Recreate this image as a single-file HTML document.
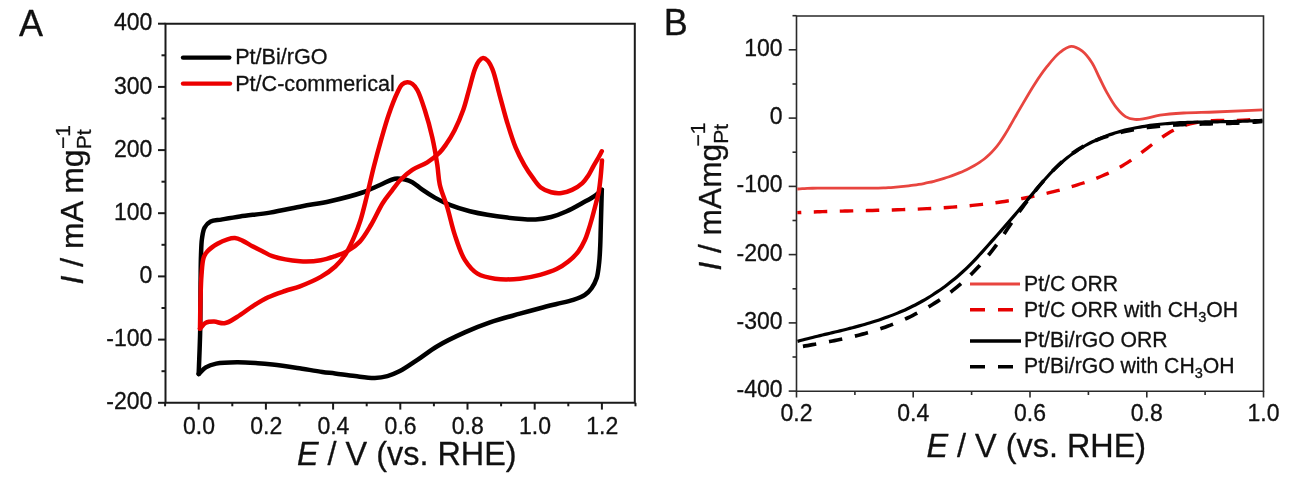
<!DOCTYPE html>
<html><head><meta charset="utf-8"><style>
html,body{margin:0;padding:0;background:#fff;}
body{width:1293px;height:481px;overflow:hidden;font-family:"Liberation Sans", sans-serif;}
svg{display:block;will-change:transform;}
text{stroke:#111;stroke-width:0.3px;stroke-linejoin:round;}
</style></head><body>
<svg width="1293" height="481" viewBox="0 0 1293 481" font-family='"Liberation Sans", sans-serif' fill="#111"><path d="M165.5 23.7H634.8V402.8H165.5Z" fill="none" stroke="#1a1a1a" stroke-width="2"/>
<path d="M158 402.8H165.5" stroke="#1a1a1a" stroke-width="2"/>
<text x="152.3" y="409.4" text-anchor="end" font-size="23">-200</text>
<path d="M158 339.6H165.5" stroke="#1a1a1a" stroke-width="2"/>
<text x="152.3" y="346.2" text-anchor="end" font-size="23">-100</text>
<path d="M158 276.4H165.5" stroke="#1a1a1a" stroke-width="2"/>
<text x="152.3" y="283.0" text-anchor="end" font-size="23">0</text>
<path d="M158 213.2H165.5" stroke="#1a1a1a" stroke-width="2"/>
<text x="152.3" y="219.8" text-anchor="end" font-size="23">100</text>
<path d="M158 150.1H165.5" stroke="#1a1a1a" stroke-width="2"/>
<text x="152.3" y="156.7" text-anchor="end" font-size="23">200</text>
<path d="M158 86.9H165.5" stroke="#1a1a1a" stroke-width="2"/>
<text x="152.3" y="93.5" text-anchor="end" font-size="23">300</text>
<path d="M158 23.7H165.5" stroke="#1a1a1a" stroke-width="2"/>
<text x="152.3" y="30.3" text-anchor="end" font-size="23">400</text>
<path d="M161.5 371.2H165.5" stroke="#1a1a1a" stroke-width="2"/>
<path d="M161.5 308.0H165.5" stroke="#1a1a1a" stroke-width="2"/>
<path d="M161.5 244.8H165.5" stroke="#1a1a1a" stroke-width="2"/>
<path d="M161.5 181.7H165.5" stroke="#1a1a1a" stroke-width="2"/>
<path d="M161.5 118.5H165.5" stroke="#1a1a1a" stroke-width="2"/>
<path d="M161.5 55.3H165.5" stroke="#1a1a1a" stroke-width="2"/>
<path d="M198.7 402.8V409.6" stroke="#1a1a1a" stroke-width="2"/>
<text x="199.0" y="434.3" text-anchor="middle" font-size="23">0.0</text>
<path d="M265.9 402.8V409.6" stroke="#1a1a1a" stroke-width="2"/>
<text x="266.2" y="434.3" text-anchor="middle" font-size="23">0.2</text>
<path d="M333.1 402.8V409.6" stroke="#1a1a1a" stroke-width="2"/>
<text x="333.4" y="434.3" text-anchor="middle" font-size="23">0.4</text>
<path d="M400.3 402.8V409.6" stroke="#1a1a1a" stroke-width="2"/>
<text x="400.6" y="434.3" text-anchor="middle" font-size="23">0.6</text>
<path d="M467.5 402.8V409.6" stroke="#1a1a1a" stroke-width="2"/>
<text x="467.8" y="434.3" text-anchor="middle" font-size="23">0.8</text>
<path d="M534.7 402.8V409.6" stroke="#1a1a1a" stroke-width="2"/>
<text x="535.0" y="434.3" text-anchor="middle" font-size="23">1.0</text>
<path d="M601.9 402.8V409.6" stroke="#1a1a1a" stroke-width="2"/>
<text x="602.2" y="434.3" text-anchor="middle" font-size="23">1.2</text>
<path d="M165.1 402.8V406.3" stroke="#1a1a1a" stroke-width="2"/>
<path d="M232.3 402.8V406.3" stroke="#1a1a1a" stroke-width="2"/>
<path d="M299.5 402.8V406.3" stroke="#1a1a1a" stroke-width="2"/>
<path d="M366.7 402.8V406.3" stroke="#1a1a1a" stroke-width="2"/>
<path d="M433.9 402.8V406.3" stroke="#1a1a1a" stroke-width="2"/>
<path d="M501.1 402.8V406.3" stroke="#1a1a1a" stroke-width="2"/>
<path d="M568.3 402.8V406.3" stroke="#1a1a1a" stroke-width="2"/>
<path d="M635.5 402.8V406.3" stroke="#1a1a1a" stroke-width="2"/>
<text x="297" y="465.3" font-size="32.4"><tspan font-style="italic">E</tspan> / V (vs. RHE)</text>
<text transform="translate(83.3 284.5) rotate(-90)" font-size="32"><tspan font-style="italic">I</tspan> / mA mg<tspan font-size="21" dy="8">Pt</tspan><tspan font-size="21" dx="-19.5" dy="-21.5">&#8722;1</tspan></text>
<text x="19" y="35.8" font-size="36" stroke-width="0">A</text>
<path d="M183 57.6H229.3" stroke="#000" stroke-width="4.4" stroke-linecap="round"/>
<path d="M183 83.6H230" stroke="#ec0000" stroke-width="4.4" stroke-linecap="round"/>
<text x="235.2" y="64" font-size="21.6">Pt/Bi/rGO</text>
<text x="235.2" y="90.6" font-size="21.6">Pt/C-commerical</text>
<path d="M198.70 374.00 C199.20 359.33 199.88 345.14 200.20 330.00 C200.54 313.87 200.43 293.81 200.60 280.00 C200.72 270.24 200.71 262.47 201.00 255.00 C201.23 248.93 201.27 243.40 202.00 238.50 C202.60 234.46 202.97 230.52 204.60 227.60 C206.02 225.06 208.07 222.94 210.60 221.60 C213.46 220.09 217.16 220.32 221.20 219.60 C226.57 218.64 233.00 217.44 240.00 216.40 C248.80 215.09 259.76 214.24 269.90 212.60 C280.51 210.88 291.92 208.16 302.30 206.20 C311.89 204.39 320.44 203.34 330.00 201.20 C340.45 198.86 353.42 195.64 362.50 192.50 C369.33 190.14 374.40 187.38 380.00 185.00 C385.16 182.80 390.33 179.44 394.90 178.70 C398.52 178.11 401.95 178.83 405.00 179.50 C407.68 180.09 409.78 180.83 412.30 182.20 C415.49 183.94 418.73 187.24 422.30 189.70 C426.18 192.38 430.37 195.13 434.80 197.60 C439.50 200.22 444.35 202.73 449.80 204.90 C455.91 207.33 462.02 209.32 469.80 211.20 C480.30 213.73 495.73 216.24 507.40 217.60 C517.44 218.77 527.60 219.76 535.60 219.40 C541.58 219.13 546.06 218.32 551.20 217.00 C556.47 215.65 561.68 213.59 566.80 211.30 C572.08 208.94 577.52 205.71 582.40 203.00 C586.79 200.56 591.35 198.25 594.80 195.80 C597.57 193.83 599.47 191.80 601.80 189.80" fill="none" stroke="#000" stroke-width="4.5" stroke-linejoin="round" stroke-linecap="round"/>
<path d="M601.80 189.80 C601.43 203.20 601.00 219.52 600.70 230.00 C600.51 236.74 600.47 241.06 600.20 246.60 C599.93 252.16 599.73 257.90 599.10 263.30 C598.50 268.45 598.04 273.91 596.60 278.30 C595.37 282.05 593.66 285.36 591.60 288.20 C589.70 290.83 587.65 293.03 584.90 294.90 C581.72 297.06 577.58 298.46 573.30 299.90 C568.30 301.58 562.16 302.62 556.60 304.00 C551.06 305.38 545.79 306.68 540.00 308.20 C533.61 309.88 527.25 311.62 519.90 313.70 C510.91 316.24 499.47 319.15 490.00 322.40 C481.17 325.43 473.30 328.59 464.80 332.40 C455.75 336.46 445.58 341.31 437.30 346.20 C429.97 350.54 423.86 355.61 417.40 359.90 C411.41 363.87 405.37 368.29 399.90 371.10 C395.50 373.36 391.64 374.97 387.40 376.10 C383.30 377.20 379.56 377.78 374.90 377.90 C369.04 378.05 361.63 376.85 355.00 376.10 C348.33 375.35 340.92 374.15 335.00 373.40 C330.29 372.80 327.24 372.58 322.30 371.90 C315.36 370.95 305.63 369.22 297.30 368.00 C289.00 366.79 279.61 365.44 272.40 364.60 C266.89 363.96 263.10 363.58 257.80 363.20 C251.48 362.75 243.93 362.13 237.00 362.20 C230.06 362.27 221.87 362.40 216.20 363.60 C212.06 364.48 208.78 365.57 205.80 367.40 C203.01 369.11 201.07 371.80 198.70 374.00" fill="none" stroke="#000" stroke-width="4.5" stroke-linejoin="round" stroke-linecap="round"/>
<path d="M200.00 328.70 C200.17 319.13 200.23 309.24 200.50 300.00 C200.75 291.38 200.87 282.59 201.50 275.00 C202.03 268.61 202.21 261.66 203.70 257.40 C204.66 254.67 205.68 253.20 207.50 251.20 C209.88 248.58 214.05 245.72 217.50 243.70 C220.73 241.81 224.36 240.23 227.50 239.30 C230.10 238.53 232.45 237.90 234.90 238.10 C237.42 238.30 239.78 239.44 242.40 240.60 C245.56 242.00 249.05 244.42 252.40 246.20 C255.71 247.95 259.07 249.53 262.40 251.20 C265.73 252.87 268.11 254.76 272.40 256.20 C279.20 258.48 291.42 260.72 300.00 261.30 C307.39 261.80 314.55 261.34 320.80 260.30 C326.13 259.41 330.69 257.72 335.30 256.10 C339.67 254.56 343.82 253.21 347.80 250.90 C352.01 248.45 356.15 245.50 359.80 241.60 C363.99 237.12 367.37 231.02 371.00 225.00 C375.06 218.28 378.89 209.17 382.80 203.00 C385.88 198.15 388.94 194.60 392.00 190.60 C394.94 186.77 397.48 182.92 400.80 179.50 C404.22 175.97 408.03 172.61 412.30 169.80 C416.81 166.83 422.67 165.26 427.30 162.30 C431.82 159.41 436.53 155.57 439.80 152.30 C442.34 149.76 443.71 147.79 445.80 144.80 C448.58 140.81 451.85 135.58 454.60 130.20 C457.74 124.07 460.86 116.67 463.30 109.80 C465.68 103.10 467.17 96.28 469.10 89.50 C471.04 82.71 472.87 74.28 474.90 69.10 C476.23 65.71 477.37 62.92 479.00 61.00 C480.22 59.56 481.68 58.08 483.10 58.00 C484.52 57.92 486.16 59.16 487.50 60.50 C489.38 62.37 490.83 65.33 492.40 69.10 C495.00 75.35 497.28 86.56 499.70 95.30 C502.12 104.03 504.25 112.80 506.90 121.50 C509.58 130.27 512.48 139.96 515.70 147.70 C518.40 154.20 521.33 159.80 524.40 165.10 C527.16 169.87 530.18 174.28 533.10 178.20 C535.65 181.64 537.73 185.14 540.80 187.50 C543.79 189.80 547.65 191.39 551.20 192.30 C554.59 193.16 558.17 193.38 561.60 193.00 C565.10 192.61 568.64 191.46 572.00 189.90 C575.59 188.23 579.62 185.64 582.40 183.10 C584.77 180.93 586.27 178.61 588.00 176.00 C589.89 173.16 591.44 169.70 593.20 166.60 C594.94 163.53 596.96 160.26 598.50 157.50 C599.75 155.25 600.70 153.37 601.80 151.30" fill="none" stroke="#ec0000" stroke-width="4.5" stroke-linejoin="round" stroke-linecap="round"/>
<path d="M602.00 160.50 C601.53 166.13 601.17 171.95 600.60 177.40 C600.06 182.53 599.54 187.79 598.70 192.30 C597.98 196.13 597.09 198.93 596.10 202.80 C594.86 207.62 593.18 214.13 591.80 219.00 C590.66 223.03 589.68 226.44 588.50 230.00 C587.37 233.43 586.46 236.61 584.90 240.00 C583.15 243.80 581.01 248.04 578.30 251.60 C575.51 255.26 571.94 258.67 568.30 261.60 C564.70 264.50 560.98 266.97 556.60 269.10 C551.67 271.50 545.86 273.33 540.00 274.90 C533.68 276.59 526.99 278.04 519.90 278.70 C512.08 279.43 502.50 279.75 495.00 278.70 C488.58 277.80 482.51 276.79 477.50 273.70 C472.42 270.56 468.37 265.57 464.80 259.90 C460.52 253.10 457.69 243.52 454.80 234.90 C451.83 226.03 449.92 216.09 447.30 207.40 C444.90 199.44 441.47 192.10 439.80 184.70 C438.27 177.92 438.40 171.95 437.30 164.80 C436.00 156.38 434.37 146.49 432.30 137.40 C430.21 128.22 427.51 118.36 424.80 110.00 C422.45 102.75 419.90 94.58 417.30 90.00 C415.74 87.25 414.35 85.28 412.50 84.00 C410.94 82.92 409.03 82.23 407.30 82.30 C405.53 82.37 403.52 83.16 402.00 84.50 C400.07 86.20 399.04 89.08 397.40 92.50 C394.75 98.01 391.27 107.17 388.60 114.90 C385.82 122.95 383.53 131.36 381.10 139.90 C378.56 148.81 376.08 157.93 373.70 167.30 C371.21 177.10 368.87 188.10 366.50 197.50 C364.41 205.78 362.57 213.74 360.30 220.80 C358.35 226.86 356.40 231.93 354.00 237.40 C351.55 243.00 348.95 249.03 345.70 254.00 C342.66 258.66 339.33 262.75 335.30 266.50 C331.08 270.43 326.24 273.76 320.80 276.90 C314.65 280.45 306.44 283.85 300.00 286.30 C294.66 288.34 290.12 289.24 285.00 291.00 C279.53 292.88 273.51 294.81 268.20 297.30 C263.06 299.71 258.56 302.50 253.60 305.60 C248.17 309.00 242.24 313.90 237.00 317.00 C232.63 319.59 228.57 322.67 224.50 323.30 C220.96 323.84 217.37 321.63 214.10 321.60 C211.18 321.57 208.16 321.61 205.80 322.80 C203.46 323.98 201.93 326.73 200.00 328.70" fill="none" stroke="#ec0000" stroke-width="4.5" stroke-linejoin="round" stroke-linecap="round"/>
<path d="M796.5 16.0H1263.5V391.2H796.5Z" fill="none" stroke="#2a2a2a" stroke-width="1.6"/>
<path d="M788.7 391.1H796.5" stroke="#2a2a2a" stroke-width="1.6"/>
<text x="782.6" y="397.1" text-anchor="end" font-size="23">-400</text>
<path d="M788.7 322.9H796.5" stroke="#2a2a2a" stroke-width="1.6"/>
<text x="782.6" y="328.9" text-anchor="end" font-size="23">-300</text>
<path d="M788.7 254.6H796.5" stroke="#2a2a2a" stroke-width="1.6"/>
<text x="782.6" y="260.6" text-anchor="end" font-size="23">-200</text>
<path d="M788.7 186.4H796.5" stroke="#2a2a2a" stroke-width="1.6"/>
<text x="782.6" y="192.4" text-anchor="end" font-size="23">-100</text>
<path d="M788.7 118.1H796.5" stroke="#2a2a2a" stroke-width="1.6"/>
<text x="782.6" y="124.1" text-anchor="end" font-size="23">0</text>
<path d="M788.7 49.8H796.5" stroke="#2a2a2a" stroke-width="1.6"/>
<text x="782.6" y="55.8" text-anchor="end" font-size="23">100</text>
<path d="M792.5 357.0H796.5" stroke="#2a2a2a" stroke-width="1.6"/>
<path d="M792.5 288.8H796.5" stroke="#2a2a2a" stroke-width="1.6"/>
<path d="M792.5 220.5H796.5" stroke="#2a2a2a" stroke-width="1.6"/>
<path d="M792.5 152.2H796.5" stroke="#2a2a2a" stroke-width="1.6"/>
<path d="M792.5 84.0H796.5" stroke="#2a2a2a" stroke-width="1.6"/>
<path d="M792.5 15.7H796.5" stroke="#2a2a2a" stroke-width="1.6"/>
<path d="M796.5 391.2V397.5" stroke="#2a2a2a" stroke-width="1.6"/>
<text x="796.5" y="421" text-anchor="middle" font-size="23">0.2</text>
<path d="M913.2 391.2V397.5" stroke="#2a2a2a" stroke-width="1.6"/>
<text x="913.2" y="421" text-anchor="middle" font-size="23">0.4</text>
<path d="M1030.0 391.2V397.5" stroke="#2a2a2a" stroke-width="1.6"/>
<text x="1030.0" y="421" text-anchor="middle" font-size="23">0.6</text>
<path d="M1146.8 391.2V397.5" stroke="#2a2a2a" stroke-width="1.6"/>
<text x="1146.8" y="421" text-anchor="middle" font-size="23">0.8</text>
<path d="M1263.5 391.2V397.5" stroke="#2a2a2a" stroke-width="1.6"/>
<text x="1263.5" y="421" text-anchor="middle" font-size="23">1.0</text>
<path d="M854.9 391.2V395" stroke="#2a2a2a" stroke-width="1.6"/>
<path d="M971.6 391.2V395" stroke="#2a2a2a" stroke-width="1.6"/>
<path d="M1088.4 391.2V395" stroke="#2a2a2a" stroke-width="1.6"/>
<path d="M1205.1 391.2V395" stroke="#2a2a2a" stroke-width="1.6"/>
<text x="926.5" y="457" font-size="32.4"><tspan font-style="italic">E</tspan> / V (vs. RHE)</text>
<text transform="translate(720.5 270.6) rotate(-90)" font-size="31.7"><tspan font-style="italic">I</tspan> / mAmg<tspan font-size="21" dy="7.5">Pt</tspan><tspan font-size="21" dx="-22.5" dy="-23">&#8722;1</tspan></text>
<text x="663.8" y="35.2" font-size="36" stroke-width="0">B</text>
<path d="M797.30 188.98 C798.99 188.87 800.67 188.76 802.36 188.67 C804.05 188.57 805.74 188.50 807.42 188.43 C809.11 188.36 810.80 188.30 812.48 188.25 C814.17 188.21 815.86 188.17 817.55 188.14 C819.23 188.11 820.92 188.09 822.61 188.07 C824.29 188.05 825.98 188.04 827.67 188.04 C829.36 188.04 831.04 188.04 832.73 188.04 C834.42 188.05 836.10 188.06 837.79 188.07 C839.48 188.08 841.17 188.09 842.85 188.10 C844.54 188.12 846.23 188.13 847.91 188.15 C849.60 188.16 851.29 188.18 852.97 188.19 C854.66 188.20 856.35 188.21 858.04 188.21 C859.72 188.22 861.41 188.22 863.10 188.22 C864.78 188.22 866.47 188.21 868.16 188.20 C869.85 188.18 871.53 188.16 873.22 188.13 C874.91 188.11 876.59 188.07 878.28 188.03 C879.97 187.98 881.66 187.93 883.34 187.86 C885.03 187.80 886.72 187.72 888.40 187.63 C890.09 187.55 891.78 187.45 893.47 187.33 C895.15 187.22 896.84 187.09 898.53 186.95 C900.22 186.81 901.90 186.65 903.59 186.48 C905.28 186.31 906.96 186.12 908.65 185.91 C910.34 185.70 912.03 185.48 913.71 185.23 C915.40 184.98 917.09 184.72 918.77 184.44 C920.46 184.15 922.15 183.85 923.83 183.52 C925.52 183.19 927.21 182.84 928.90 182.47 C930.59 182.09 932.27 181.69 933.96 181.27 C935.65 180.85 937.33 180.40 939.02 179.93 C940.71 179.45 942.40 178.95 944.08 178.43 C945.77 177.90 947.46 177.34 949.14 176.75 C950.83 176.17 952.52 175.55 954.20 174.91 C955.89 174.26 957.58 173.58 959.26 172.87 C960.96 172.16 962.64 171.42 964.33 170.65 C966.02 169.87 967.71 169.07 969.39 168.22 C971.08 167.37 972.78 166.49 974.45 165.54 C976.15 164.57 977.84 163.56 979.51 162.45 C981.22 161.30 982.91 160.09 984.57 158.77 C986.29 157.39 987.98 155.92 989.63 154.33 C991.36 152.66 993.05 150.87 994.69 148.95 C996.43 146.93 998.11 144.75 999.75 142.46 C1001.49 140.05 1003.16 137.43 1004.82 134.79 C1006.54 132.04 1008.20 129.15 1009.88 126.27 C1011.58 123.35 1013.25 120.34 1014.94 117.40 C1016.62 114.47 1017.85 112.30 1020.00 108.65 C1023.64 102.45 1030.02 91.19 1034.90 83.70 C1039.10 77.26 1042.99 71.56 1047.30 66.20 C1051.31 61.22 1055.44 55.91 1059.80 52.50 C1063.43 49.66 1067.30 46.57 1071.10 46.40 C1074.80 46.23 1078.97 48.73 1082.30 51.20 C1085.96 53.92 1089.03 58.29 1091.80 62.50 C1094.75 66.99 1096.80 72.51 1099.30 77.50 C1101.80 82.48 1104.03 87.49 1106.80 92.40 C1109.65 97.46 1112.81 103.17 1116.20 107.40 C1119.11 111.04 1122.12 114.60 1125.50 116.60 C1128.42 118.33 1131.73 119.06 1134.90 119.40 C1138.00 119.74 1140.79 119.22 1144.30 118.70 C1148.89 118.02 1154.21 116.11 1160.00 115.20 C1167.01 114.09 1175.10 113.53 1183.50 113.00 C1193.16 112.39 1203.20 112.44 1214.70 112.00 C1228.94 111.46 1246.57 110.60 1262.50 109.90" fill="none" stroke="#e8453f" stroke-width="2.8"/>
<path d="M797.30 212.62 C798.97 212.54 800.63 212.46 802.30 212.39 C803.97 212.32 805.64 212.25 807.30 212.18 C808.97 212.11 810.64 212.05 812.31 211.99 C813.97 211.92 815.64 211.87 817.31 211.81 C818.98 211.75 820.64 211.70 822.31 211.64 C823.98 211.59 825.65 211.54 827.31 211.49 C828.98 211.44 830.65 211.40 832.32 211.35 C833.98 211.31 835.65 211.26 837.32 211.22 C838.98 211.18 840.65 211.14 842.32 211.10 C843.99 211.06 845.65 211.02 847.32 210.98 C848.99 210.94 850.66 210.91 852.32 210.87 C853.99 210.83 855.66 210.79 857.33 210.76 C858.99 210.72 860.66 210.69 862.33 210.65 C864.00 210.61 865.66 210.58 867.33 210.54 C869.00 210.51 870.66 210.47 872.33 210.43 C874.00 210.39 875.67 210.36 877.33 210.32 C879.00 210.28 880.67 210.24 882.34 210.20 C884.00 210.16 885.67 210.12 887.34 210.07 C889.01 210.03 890.67 209.99 892.34 209.94 C894.01 209.89 895.68 209.85 897.34 209.80 C899.01 209.75 900.68 209.70 902.35 209.64 C904.01 209.59 905.68 209.53 907.35 209.48 C909.01 209.42 910.68 209.36 912.35 209.30 C914.02 209.23 915.68 209.17 917.35 209.10 C919.02 209.03 920.69 208.96 922.35 208.88 C924.02 208.81 925.69 208.73 927.36 208.65 C929.02 208.57 930.69 208.48 932.36 208.39 C934.03 208.31 935.69 208.21 937.36 208.12 C939.03 208.02 940.70 207.92 942.36 207.82 C944.03 207.71 945.70 207.60 947.36 207.49 C949.03 207.38 950.70 207.26 952.37 207.14 C954.03 207.01 955.70 206.89 957.37 206.75 C959.04 206.62 960.70 206.48 962.37 206.34 C964.04 206.20 965.71 206.05 967.37 205.90 C969.04 205.74 970.71 205.58 972.38 205.42 C974.04 205.25 975.71 205.08 977.38 204.91 C979.05 204.73 980.71 204.55 982.38 204.36 C984.05 204.17 985.71 203.97 987.38 203.77 C989.05 203.57 990.72 203.36 992.38 203.14 C994.05 202.93 995.72 202.70 997.39 202.47 C999.05 202.24 1000.72 202.01 1002.39 201.76 C1004.06 201.52 1005.72 201.27 1007.39 201.01 C1009.06 200.75 1010.73 200.48 1012.39 200.21 C1014.06 199.93 1015.73 199.65 1017.39 199.36 C1019.06 199.06 1020.73 198.76 1022.40 198.46 C1024.06 198.15 1025.73 197.83 1027.40 197.51 C1029.07 197.18 1030.73 196.85 1032.40 196.51 C1034.07 196.16 1035.74 195.81 1037.40 195.45 C1039.07 195.09 1040.74 194.72 1042.41 194.34 C1044.07 193.96 1045.74 193.57 1047.41 193.17 C1049.08 192.77 1050.74 192.36 1052.41 191.94 C1054.08 191.52 1055.75 191.10 1057.41 190.66 C1059.08 190.22 1060.75 189.77 1062.41 189.31 C1064.08 188.85 1065.75 188.38 1067.42 187.89 C1069.08 187.41 1070.75 186.92 1072.42 186.42 C1074.09 185.91 1075.75 185.40 1077.42 184.87 C1079.09 184.35 1080.76 183.81 1082.42 183.26 C1084.09 182.71 1085.76 182.15 1087.42 181.57 C1089.09 180.99 1090.76 180.39 1092.43 179.77 C1094.10 179.15 1095.77 178.52 1097.43 177.86 C1099.10 177.19 1100.77 176.51 1102.43 175.80 C1104.10 175.08 1105.77 174.34 1107.43 173.58 C1109.11 172.80 1110.77 172.00 1112.44 171.17 C1114.11 170.32 1115.78 169.45 1117.44 168.55 C1119.11 167.63 1120.78 166.68 1122.44 165.70 C1124.12 164.70 1125.78 163.67 1127.44 162.60 C1129.12 161.52 1130.79 160.39 1132.44 159.24 C1134.12 158.07 1135.78 156.85 1137.45 155.63 C1139.12 154.40 1140.78 153.13 1142.45 151.87 C1144.12 150.61 1145.78 149.32 1147.45 148.04 C1149.12 146.77 1150.78 145.49 1152.45 144.23 C1154.12 142.98 1155.78 141.73 1157.45 140.52 C1159.11 139.32 1160.78 138.13 1162.46 136.99 C1164.11 135.87 1165.78 134.77 1167.46 133.73 C1169.11 132.72 1170.78 131.73 1172.46 130.83 C1174.11 129.95 1175.78 129.12 1177.46 128.36 C1179.12 127.61 1180.79 126.94 1182.47 126.32 C1184.12 125.70 1185.79 125.15 1187.47 124.66 C1189.13 124.17 1190.80 123.73 1192.47 123.35 C1194.13 122.96 1195.80 122.63 1197.47 122.34 C1199.14 122.05 1200.80 121.81 1202.47 121.60 C1204.14 121.39 1205.81 121.22 1207.48 121.08 C1209.14 120.94 1210.81 120.83 1212.48 120.75 C1214.15 120.66 1215.81 120.60 1217.48 120.55 C1219.15 120.51 1220.82 120.48 1222.48 120.46 C1224.15 120.44 1225.82 120.44 1227.48 120.43 C1229.15 120.43 1230.82 120.43 1232.49 120.42 C1234.15 120.41 1235.82 120.40 1237.49 120.38 C1239.16 120.35 1240.82 120.32 1242.49 120.26 C1244.16 120.19 1245.83 120.12 1247.49 120.01 C1249.16 119.90 1250.83 119.76 1252.50 119.59 C1254.17 119.41 1255.83 119.20 1257.50 118.94 C1259.17 118.68 1260.83 118.34 1262.50 118.03" fill="none" stroke="#e60000" stroke-width="3.4" stroke-dasharray="13.5 12.5" stroke-dashoffset="9.5"/>
<path d="M797.50 341.35 C799.17 340.90 800.83 340.45 802.50 340.01 C804.17 339.57 805.83 339.14 807.50 338.71 C809.17 338.29 810.83 337.87 812.50 337.46 C814.17 337.04 815.83 336.64 817.50 336.23 C819.17 335.83 820.83 335.43 822.50 335.03 C824.17 334.63 825.83 334.23 827.50 333.83 C829.17 333.43 830.83 333.04 832.50 332.64 C834.17 332.24 835.83 331.84 837.50 331.44 C839.17 331.04 840.83 330.63 842.50 330.23 C844.17 329.82 845.83 329.40 847.50 328.98 C849.17 328.56 850.83 328.14 852.50 327.71 C854.17 327.27 855.83 326.84 857.50 326.39 C859.17 325.94 860.83 325.48 862.50 325.01 C864.17 324.54 865.83 324.07 867.50 323.58 C869.17 323.09 870.84 322.58 872.50 322.07 C874.17 321.55 875.84 321.02 877.50 320.48 C879.17 319.93 880.84 319.37 882.50 318.80 C884.17 318.22 885.84 317.63 887.50 317.02 C889.17 316.40 890.84 315.78 892.50 315.13 C894.17 314.48 895.84 313.81 897.50 313.12 C899.17 312.43 900.84 311.72 902.50 310.99 C904.17 310.25 905.84 309.49 907.50 308.71 C909.17 307.93 910.84 307.13 912.50 306.30 C914.17 305.46 915.84 304.61 917.50 303.72 C919.17 302.84 920.84 301.92 922.50 300.99 C924.17 300.04 925.84 299.07 927.50 298.08 C929.17 297.07 930.84 296.04 932.50 294.98 C934.17 293.91 935.84 292.82 937.50 291.69 C939.17 290.56 940.84 289.40 942.50 288.21 C944.18 287.00 945.84 285.77 947.50 284.51 C949.18 283.23 950.84 281.92 952.50 280.59 C954.18 279.23 955.84 277.84 957.50 276.42 C959.18 274.98 960.84 273.51 962.50 272.00 C964.18 270.46 965.85 268.90 967.50 267.29 C969.18 265.67 970.84 264.00 972.50 262.30 C974.18 260.58 975.84 258.82 977.50 257.04 C979.17 255.25 980.84 253.42 982.50 251.59 C984.17 249.75 985.84 247.89 987.50 246.02 C989.17 244.16 990.83 242.28 992.50 240.41 C994.17 238.53 995.83 236.65 997.50 234.76 C999.17 232.87 1000.84 230.98 1002.50 229.08 C1004.17 227.18 1005.84 225.28 1007.50 223.36 C1009.17 221.44 1010.84 219.52 1012.50 217.59 C1014.17 215.65 1015.84 213.71 1017.50 211.76 C1019.17 209.80 1020.84 207.83 1022.50 205.86 C1024.17 203.88 1025.83 201.88 1027.50 199.89 C1029.17 197.89 1030.83 195.87 1032.50 193.87 C1034.16 191.88 1035.83 189.88 1037.50 187.91 C1039.16 185.95 1040.82 184.00 1042.50 182.09 C1044.16 180.20 1045.82 178.32 1047.50 176.50 C1049.15 174.71 1050.82 172.94 1052.50 171.24 C1054.15 169.56 1055.82 167.92 1057.50 166.34 C1059.15 164.78 1060.82 163.27 1062.50 161.80 C1064.15 160.36 1065.82 158.97 1067.50 157.62 C1069.15 156.30 1070.82 155.02 1072.50 153.79 C1074.15 152.58 1075.82 151.41 1077.50 150.30 C1079.15 149.20 1080.82 148.15 1082.50 147.14 C1084.16 146.15 1085.82 145.21 1087.50 144.31 C1089.16 143.42 1090.82 142.57 1092.50 141.76 C1094.16 140.96 1095.83 140.20 1097.50 139.47 C1099.16 138.75 1100.83 138.07 1102.50 137.41 C1104.16 136.76 1105.83 136.14 1107.50 135.55 C1109.16 134.96 1110.83 134.40 1112.50 133.86 C1114.16 133.32 1115.83 132.81 1117.50 132.31 C1119.16 131.82 1120.83 131.36 1122.50 130.91 C1124.16 130.47 1125.83 130.05 1127.50 129.65 C1129.16 129.25 1130.83 128.87 1132.50 128.51 C1134.16 128.15 1135.83 127.82 1137.50 127.50 C1139.16 127.18 1140.83 126.88 1142.50 126.60 C1144.17 126.31 1145.83 126.05 1147.50 125.80 C1149.17 125.55 1150.83 125.32 1152.50 125.11 C1154.17 124.89 1155.83 124.69 1157.50 124.50 C1159.17 124.31 1160.83 124.14 1162.50 123.98 C1164.17 123.82 1165.83 123.68 1167.50 123.54 C1169.17 123.41 1170.83 123.28 1172.50 123.17 C1174.17 123.06 1175.83 122.95 1177.50 122.86 C1179.17 122.77 1180.83 122.68 1182.50 122.61 C1184.17 122.53 1185.83 122.46 1187.50 122.40 C1189.17 122.34 1190.83 122.29 1192.50 122.24 C1194.17 122.19 1195.83 122.15 1197.50 122.11 C1199.17 122.07 1200.83 122.04 1202.50 122.01 C1204.17 121.97 1205.83 121.95 1207.50 121.92 C1209.17 121.89 1210.83 121.87 1212.50 121.85 C1214.17 121.82 1215.83 121.80 1217.50 121.78 C1219.17 121.76 1220.83 121.73 1222.50 121.71 C1224.17 121.68 1225.83 121.66 1227.50 121.63 C1229.17 121.60 1230.83 121.57 1232.50 121.53 C1234.17 121.49 1235.83 121.45 1237.50 121.41 C1239.17 121.36 1240.83 121.31 1242.50 121.25 C1244.17 121.19 1245.83 121.13 1247.50 121.06 C1249.17 120.99 1250.83 120.91 1252.50 120.82 C1254.17 120.73 1255.83 120.63 1257.50 120.52 C1259.17 120.42 1260.83 120.29 1262.50 120.17" fill="none" stroke="#000" stroke-width="3.2"/>
<path d="M797.50 347.27 C799.17 346.99 800.83 346.70 802.50 346.42 C804.17 346.13 805.83 345.84 807.50 345.56 C809.17 345.27 810.83 344.98 812.50 344.69 C814.17 344.40 815.83 344.10 817.50 343.81 C819.17 343.51 820.83 343.21 822.50 342.90 C824.17 342.60 825.83 342.29 827.50 341.97 C829.17 341.65 830.83 341.33 832.50 341.00 C834.17 340.68 835.83 340.34 837.50 340.00 C839.17 339.65 840.83 339.30 842.50 338.94 C844.17 338.58 845.83 338.22 847.50 337.84 C849.17 337.46 850.83 337.07 852.50 336.67 C854.17 336.27 855.83 335.86 857.50 335.44 C859.17 335.01 860.83 334.58 862.50 334.13 C864.17 333.68 865.84 333.22 867.50 332.74 C869.17 332.27 870.84 331.78 872.50 331.27 C874.17 330.76 875.84 330.24 877.50 329.70 C879.17 329.17 880.84 328.61 882.50 328.04 C884.17 327.47 885.84 326.88 887.50 326.27 C889.17 325.66 890.84 325.03 892.50 324.39 C894.17 323.74 895.84 323.07 897.50 322.39 C899.17 321.70 900.84 320.99 902.50 320.26 C904.17 319.53 905.84 318.78 907.50 318.00 C909.17 317.23 910.84 316.43 912.50 315.61 C914.17 314.78 915.84 313.94 917.50 313.07 C919.17 312.19 920.84 311.30 922.50 310.38 C924.17 309.45 925.84 308.50 927.50 307.53 C929.17 306.55 930.84 305.54 932.50 304.51 C934.17 303.48 935.84 302.42 937.50 301.33 C939.17 300.24 940.84 299.12 942.50 297.97 C944.17 296.81 945.84 295.63 947.50 294.42 C949.18 293.19 950.84 291.94 952.50 290.65 C954.18 289.35 955.84 288.01 957.50 286.64 C959.18 285.26 960.84 283.84 962.50 282.38 C964.18 280.90 965.85 279.39 967.50 277.84 C969.18 276.26 970.85 274.64 972.50 272.99 C974.18 271.30 975.85 269.58 977.50 267.81 C979.18 266.01 980.85 264.17 982.50 262.29 C984.18 260.37 985.85 258.40 987.50 256.39 C989.18 254.34 990.85 252.24 992.50 250.10 C994.18 247.91 995.85 245.68 997.50 243.40 C999.18 241.07 1000.84 238.67 1002.50 236.26 C1004.18 233.81 1005.83 231.31 1007.50 228.83 C1009.17 226.35 1010.82 223.84 1012.50 221.38 C1014.16 218.96 1015.82 216.55 1017.50 214.19 C1019.15 211.86 1020.82 209.58 1022.50 207.32 C1024.16 205.08 1025.83 202.88 1027.50 200.69 C1029.16 198.52 1030.82 196.37 1032.50 194.26 C1034.16 192.16 1035.82 190.08 1037.50 188.04 C1039.16 186.03 1040.82 184.04 1042.50 182.08 C1044.16 180.16 1045.82 178.26 1047.50 176.40 C1049.15 174.58 1050.82 172.78 1052.50 171.04 C1054.15 169.32 1055.82 167.64 1057.50 166.01 C1059.15 164.41 1060.82 162.85 1062.50 161.35 C1064.15 159.88 1065.82 158.45 1067.50 157.09 C1069.15 155.76 1070.82 154.48 1072.50 153.26 C1074.15 152.07 1075.82 150.93 1077.50 149.85 C1079.15 148.79 1080.82 147.78 1082.50 146.83 C1084.15 145.89 1085.82 145.00 1087.50 144.15 C1089.16 143.32 1090.82 142.53 1092.50 141.79 C1094.16 141.05 1095.83 140.35 1097.50 139.69 C1099.16 139.04 1100.83 138.42 1102.50 137.83 C1104.16 137.24 1105.83 136.69 1107.50 136.16 C1109.16 135.64 1110.83 135.14 1112.50 134.65 C1114.16 134.18 1115.83 133.72 1117.50 133.28 C1119.16 132.85 1120.83 132.43 1122.50 132.04 C1124.16 131.64 1125.83 131.27 1127.50 130.91 C1129.16 130.56 1130.83 130.22 1132.50 129.91 C1134.17 129.59 1135.83 129.29 1137.50 129.01 C1139.17 128.72 1140.83 128.46 1142.50 128.21 C1144.17 127.96 1145.83 127.72 1147.50 127.50 C1149.17 127.28 1150.83 127.08 1152.50 126.88 C1154.17 126.69 1155.83 126.51 1157.50 126.35 C1159.17 126.18 1160.83 126.03 1162.50 125.88 C1164.17 125.74 1165.83 125.61 1167.50 125.48 C1169.17 125.36 1170.83 125.25 1172.50 125.15 C1174.17 125.04 1175.83 124.95 1177.50 124.86 C1179.17 124.77 1180.83 124.69 1182.50 124.62 C1184.17 124.55 1185.83 124.48 1187.50 124.42 C1189.17 124.36 1190.83 124.30 1192.50 124.25 C1194.17 124.20 1195.83 124.15 1197.50 124.11 C1199.17 124.06 1200.83 124.02 1202.50 123.98 C1204.17 123.94 1205.83 123.90 1207.50 123.87 C1209.17 123.83 1210.83 123.79 1212.50 123.76 C1214.17 123.72 1215.83 123.68 1217.50 123.64 C1219.17 123.60 1220.83 123.56 1222.50 123.52 C1224.17 123.48 1225.83 123.43 1227.50 123.38 C1229.17 123.33 1230.83 123.28 1232.50 123.22 C1234.17 123.16 1235.83 123.10 1237.50 123.03 C1239.17 122.96 1240.83 122.88 1242.50 122.80 C1244.17 122.72 1245.83 122.63 1247.50 122.53 C1249.17 122.43 1250.83 122.32 1252.50 122.20 C1254.17 122.08 1255.83 121.96 1257.50 121.82 C1259.17 121.68 1260.83 121.52 1262.50 121.37" fill="none" stroke="#000" stroke-width="3.7" stroke-dasharray="13.5 13" stroke-dashoffset="21"/>
<path d="M970 284H1020" stroke="#e8453f" stroke-width="2.8"/>
<path d="M970 309.8H1013" stroke="#e60000" stroke-width="3.4" stroke-dasharray="15 13"/>
<path d="M970 341H1021" stroke="#000" stroke-width="3.3"/>
<path d="M970 366.7H1013" stroke="#000" stroke-width="3.4" stroke-dasharray="15 13"/>
<text x="1024" y="290.5" font-size="21.2">Pt/C ORR</text>
<text x="1024" y="316.7" font-size="21.2">Pt/C ORR with CH<tspan font-size="14.5" dy="5">3</tspan><tspan dy="-5">OH</tspan></text>
<text x="1024" y="346.9" font-size="21.2">Pt/Bi/rGO ORR</text>
<text x="1024" y="372.8" font-size="21.2">Pt/Bi/rGO with CH<tspan font-size="14.5" dy="5">3</tspan><tspan dy="-5">OH</tspan></text></svg>
</body></html>
